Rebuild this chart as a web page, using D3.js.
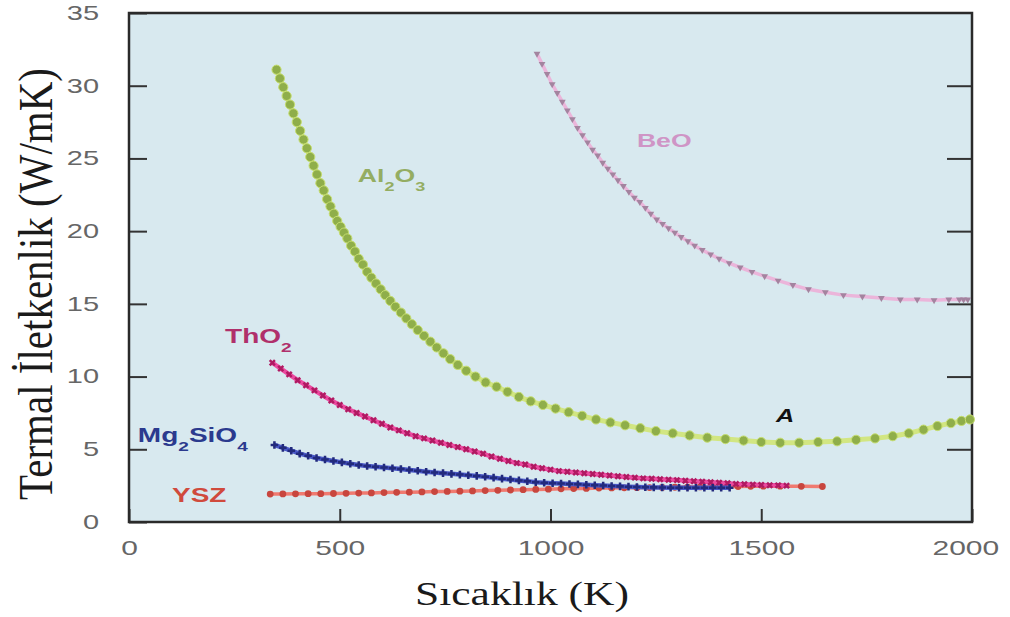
<!DOCTYPE html>
<html>
<head>
<meta charset="utf-8">
<title>Termal iletkenlik</title>
<script src="https://d3js.org/d3.v7.min.js"></script>
<style>
  body { margin: 0; background: #fff; }
  svg { display: block; }
</style>
</head>
<body>
<div id="chart"></div>
<script>
// values: [temperature K, conductivity W/mK]
var al2o3 = [[350,31.1],[358,30.5],[366,29.9],[374,29.3],[382,28.7],[390,28.1],[398,27.5],[406,26.9],
  [414,26.3],[422,25.7],[430,25.1],[438,24.5],[446,23.9],[454,23.3],[462,22.8],[470,22.2],[478,21.7],
  [486,21.2],[494,20.7],[502,20.3],[510,19.9],[518,19.5],[527,19.0],[536,18.6],[545,18.1],[555,17.7],
  [565,17.2],[575,16.8],[586,16.4],[597,16.0],[608,15.6],[620,15.2],[632,14.8],[645,14.4],[658,14.0],
  [671,13.6],[685,13.2],[700,12.8],[715,12.4],[730,12.0],[746,11.6],[762,11.2],[780,10.8],[800,10.4],
  [822,10.0],[846,9.6],[872,9.3],[898,8.95],[925,8.6],[953,8.3],[982,8.05],[1012,7.8],[1043,7.55],
  [1075,7.3],[1108,7.05],[1142,6.85],[1177,6.65],[1213,6.45],[1250,6.25],[1290,6.1],[1330,5.95],
  [1372,5.8],[1415,5.7],[1458,5.6],[1500,5.5],[1545,5.45],[1590,5.45],[1635,5.5],[1680,5.55],
  [1725,5.65],[1770,5.75],[1812,5.9],[1850,6.1],[1885,6.35],[1918,6.6],[1950,6.8],[1975,6.95],[1995,7.05]];

var beo = [[968,32.2],[980,31.5],[992,30.8],[1004,30.1],[1016,29.5],[1028,28.9],[1040,28.3],[1052,27.7],
  [1064,27.1],[1076,26.6],[1088,26.1],[1100,25.6],[1112,25.2],[1124,24.7],[1136,24.3],[1148,23.9],
  [1160,23.5],[1173,23.1],[1186,22.7],[1199,22.3],[1212,22.0],[1225,21.6],[1238,21.2],[1252,20.8],
  [1266,20.5],[1280,20.2],[1295,19.9],[1310,19.6],[1326,19.3],[1342,19.0],[1360,18.7],[1380,18.4],
  [1400,18.1],[1424,17.8],[1450,17.5],[1478,17.2],[1508,16.9],[1540,16.6],[1575,16.3],[1612,16.0],
  [1652,15.8],[1695,15.6],[1740,15.5],[1785,15.4],[1830,15.3],[1870,15.3],[1910,15.25],[1945,15.3],
  [1970,15.3],[1980,15.3],[1990,15.3]];

var tho2 = [[340,10.95],[360,10.55],[380,10.15],[400,9.75],[420,9.4],[440,9.05],[460,8.7],[480,8.35],
  [500,8.05],[520,7.75],[540,7.5],[560,7.25],[580,7.0],[600,6.75],[620,6.5],[640,6.3],[660,6.1],
  [680,5.9],[700,5.75],[720,5.6],[740,5.45],[760,5.3],[780,5.15],[800,5.0],[820,4.85],[840,4.7],
  [860,4.5],[880,4.35],[900,4.2],[920,4.05],[940,3.95],[960,3.8],[980,3.7],[1000,3.6],[1020,3.5],
  [1040,3.45],[1060,3.4],[1080,3.35],[1100,3.3],[1120,3.25],[1140,3.2],[1160,3.15],[1180,3.1],
  [1200,3.05],[1220,3.0],[1240,2.97],[1260,2.94],[1280,2.91],[1300,2.88],[1320,2.84],[1340,2.8],
  [1360,2.77],[1380,2.73],[1400,2.7],[1420,2.66],[1440,2.62],[1460,2.6],[1480,2.57],[1500,2.55],
  [1520,2.53],[1540,2.52],[1560,2.5]];

var mg2sio4 = [[345,5.3],[365,5.1],[385,4.9],[405,4.7],[425,4.55],[445,4.4],[465,4.3],[485,4.2],
  [505,4.1],[525,4.0],[545,3.92],[565,3.85],[585,3.8],[605,3.75],[625,3.7],[645,3.64],[665,3.58],
  [685,3.52],[705,3.46],[725,3.4],[745,3.36],[765,3.31],[785,3.26],[805,3.22],[825,3.17],[845,3.11],
  [865,3.05],[885,2.98],[905,2.92],[925,2.86],[945,2.8],[965,2.74],[985,2.7],[1005,2.67],[1025,2.64],
  [1045,2.61],[1065,2.59],[1085,2.56],[1105,2.53],[1125,2.51],[1145,2.48],[1165,2.45],[1185,2.43],
  [1205,2.41],[1225,2.39],[1245,2.38],[1265,2.37],[1285,2.36],[1305,2.35],[1325,2.35],[1345,2.35],
  [1365,2.35],[1385,2.35],[1405,2.35],[1425,2.35]];

var ysz = [[335,1.92],[365,1.93],[395,1.94],[425,1.95],[455,1.95],[485,1.96],[515,1.97],[545,1.99],
  [575,2.0],[605,2.02],[635,2.04],[665,2.05],[695,2.07],[725,2.09],[755,2.1],[785,2.12],[815,2.14],
  [845,2.16],[875,2.18],[905,2.2],[935,2.22],[965,2.24],[995,2.26],[1025,2.28],[1055,2.3],[1085,2.31],
  [1115,2.33],[1145,2.34],[1175,2.35],[1205,2.36],[1235,2.37],[1265,2.38],[1295,2.39],[1325,2.4],
  [1355,2.41],[1385,2.42],[1415,2.43],[1445,2.44],[1475,2.45],[1505,2.46],[1545,2.46],[1595,2.45],[1645,2.44]];

var xTicks = [0, 500, 1000, 1500, 2000];
var xTickLabels = ["0", "500", "1000", "1500", "2000"];
var yTicks = [0, 5, 10, 15, 20, 25, 30, 35];

var width = 1010, height = 617;

var x = d3.scaleLinear().domain([0, 2000]).range([129, 972]);
var y = d3.scaleLinear().domain([0, 35]).range([522, 13]);

var svg = d3.select("#chart").append("svg")
    .attr("width", width)
    .attr("height", height);

// plot background
svg.append("rect")
    .attr("x", x(0)).attr("y", y(35))
    .attr("width", x(2000) - x(0)).attr("height", y(0) - y(35))
    .attr("fill", "#d8e9ef");

// left axis: inward ticks, labels stretched sideways like the picture
var yAxis = svg.append("g")
    .attr("transform", "translate(" + x(0) + ",0)")
    .call(d3.axisLeft(y).tickValues(yTicks).tickSizeInner(-18).tickSizeOuter(0).tickPadding(30));
yAxis.select(".domain").remove();
yAxis.selectAll("line").attr("stroke", "#333").attr("stroke-width", 2);
yAxis.selectAll("text")
    .attr("x", null)
    .attr("transform", "translate(-30,0) scale(1.45,1)")
    .style("font-family", "'Liberation Sans', Arial, sans-serif")
    .style("font-size", "20px")
    .attr("fill", "#666");

// right axis: ticks only
var yAxisR = svg.append("g")
    .attr("transform", "translate(" + x(2000) + ",0)")
    .call(d3.axisRight(y).tickValues(yTicks.slice(1, -1)).tickSizeInner(-25).tickSizeOuter(0).tickFormat(""));
yAxisR.select(".domain").remove();
yAxisR.selectAll("line").attr("stroke", "#333").attr("stroke-width", 2);

// bottom axis
var xAxis = svg.append("g")
    .attr("transform", "translate(0," + y(0) + ")")
    .call(d3.axisBottom(x).tickValues(xTicks).tickSizeInner(-13).tickSizeOuter(0).tickPadding(19)
      .tickFormat(function(d, i) { return xTickLabels[i]; }));
xAxis.select(".domain").remove();
xAxis.selectAll("line").attr("stroke", "#333").attr("stroke-width", 2);
xAxis.selectAll("text")
    .attr("transform", "scale(1.5,1)")
    .style("font-family", "'Liberation Sans', Arial, sans-serif")
    .style("font-size", "20px")
    .attr("fill", "#666");
// the last label sits left of its tick, as in the picture
xAxis.selectAll("text").filter(function(d) { return d === 2000; })
    .attr("text-anchor", "start")
    .attr("transform", "translate(-40,0) scale(1.5,1)");

// frame
svg.append("rect")
    .attr("x", x(0)).attr("y", y(35))
    .attr("width", x(2000) - x(0)).attr("height", y(0) - y(35))
    .attr("fill", "none")
    .attr("stroke", "#2a2a2a")
    .attr("stroke-width", 2.5);

var line = d3.line()
    .x(function(d) { return x(d[0]); })
    .y(function(d) { return y(d[1]); });

var plot = svg.append("g");

// Al2O3
plot.append("path").datum(al2o3)
    .attr("d", line).attr("fill", "none")
    .attr("stroke", "#d2e682").attr("stroke-width", 5).attr("stroke-linejoin", "round");
plot.selectAll(".al").data(al2o3).enter().append("circle")
    .attr("cx", function(d) { return x(d[0]); })
    .attr("cy", function(d) { return y(d[1]); })
    .attr("r", 4.6)
    .attr("fill", "#8fae4a")
    .attr("stroke", "#c6de70").attr("stroke-width", 1);

// BeO
plot.append("path").datum(beo)
    .attr("d", line).attr("fill", "none")
    .attr("stroke", "#ebb5da").attr("stroke-width", 3.5);
plot.selectAll(".be").data(beo).enter().append("path")
    .attr("d", d3.symbol(d3.symbolTriangle).size(20))
    .attr("transform", function(d) { return "translate(" + x(d[0]) + "," + y(d[1]) + ") rotate(180)"; })
    .attr("fill", "#a3849f");

// YSZ
plot.append("path").datum(ysz)
    .attr("d", line).attr("fill", "none")
    .attr("stroke", "#f07a70").attr("stroke-width", 3.5);
plot.selectAll(".ysz").data(ysz).enter().append("circle")
    .attr("cx", function(d) { return x(d[0]); })
    .attr("cy", function(d) { return y(d[1]); })
    .attr("r", 3.4)
    .attr("fill", "#c8463e");

// ThO2
plot.append("path").datum(tho2)
    .attr("d", line).attr("fill", "none")
    .attr("stroke", "#ec4aa0").attr("stroke-width", 4.5);
plot.selectAll(".th").data(tho2).enter().append("path")
    .attr("d", d3.symbol(d3.symbolCross).size(30))
    .attr("transform", function(d) { return "translate(" + x(d[0]) + "," + y(d[1]) + ") rotate(45)"; })
    .attr("fill", "#b01a62");

// Mg2SiO4
plot.append("path").datum(mg2sio4)
    .attr("d", line).attr("fill", "none")
    .attr("stroke", "#4a58c8").attr("stroke-width", 4.5);
plot.selectAll(".mg").data(mg2sio4).enter().append("path")
    .attr("d", d3.symbol(d3.symbolCross).size(32))
    .attr("transform", function(d) { return "translate(" + x(d[0]) + "," + y(d[1]) + ")"; })
    .attr("fill", "#222a7c");

// series labels, placed in data units
function label(t, k, parts, color, size) {
  var txt = svg.append("text")
      .attr("transform", "translate(" + x(t) + "," + y(k) + ") scale(1.4,1)")
      .style("font-family", "'Liberation Sans', Arial, sans-serif")
      .style("font-weight", "bold")
      .style("font-size", size + "px")
      .attr("fill", color);
  var shift = 0;
  parts.forEach(function(p) {
    var sub = p.sub ? 9 : 0;
    txt.append("tspan")
        .attr("dy", sub - shift)
        .style("font-size", p.sub ? (size * 0.68) + "px" : null)
        .text(p.s);
    shift = sub;
  });
  return txt;
}

label(543, 23.4, [{s: "Al"}, {s: "2", sub: true}, {s: "O"}, {s: "3", sub: true}], "#94ad62", 19);
label(1205, 25.8, [{s: "BeO"}], "#cf95c6", 19);
label(228, 12.3, [{s: "ThO"}, {s: "2", sub: true}], "#b0306b", 20);
label(21, 5.5, [{s: "Mg"}, {s: "2", sub: true}, {s: "SiO"}, {s: "4", sub: true}], "#2b3a8e", 20);
label(102, 1.4, [{s: "YSZ"}], "#d04a3c", 20);
label(1535, 6.9, [{s: "A"}], "#111", 18).style("font-style", "italic");

// axis titles
svg.append("text")
    .attr("transform", "translate(36,284) rotate(-90) scale(1,1.2)")
    .attr("text-anchor", "middle")
    .attr("dominant-baseline", "central")
    .style("font-family", "'Liberation Serif', 'Times New Roman', serif")
    .style("font-size", "41px")
    .attr("fill", "#1a1a1a")
    .text("Termal İletkenlik (W/mK)");

svg.append("text")
    .attr("transform", "translate(522,605) scale(1.32,1)")
    .attr("text-anchor", "middle")
    .style("font-family", "'Liberation Serif', 'Times New Roman', serif")
    .style("font-size", "33px")
    .attr("fill", "#1a1a1a")
    .text("Sıcaklık (K)");
</script>
</body>
</html>
